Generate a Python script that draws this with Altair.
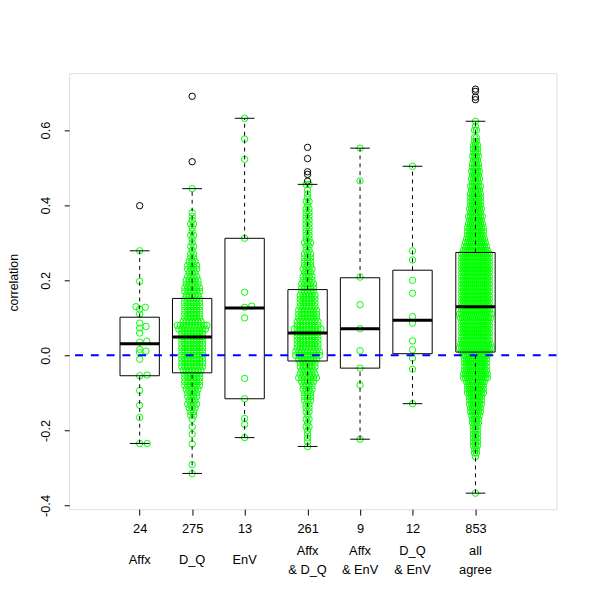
import altair as alt
import numpy as np
import pandas as pd

FONT = "Liberation Sans"

# ---------------- data ----------------
group_names = ["Affx", "D_Q", "EnV", "Affx\n& D_Q", "Affx\n& EnV", "D_Q\n& EnV", "all\nagree"]
group_sizes = ["24", "275", "13", "261", "9", "12", "853"]
group_pos = [1, 2, 3, 4.2, 5.2, 6.2, 7.4]

whisker_low = [-0.2347, -0.3145, -0.219, -0.2426, -0.2233, -0.1287, -0.367]
quart_1 = [-0.0543, -0.0465, -0.1156, -0.015, -0.034, 0.0044, 0.0088]
median = [0.0307, 0.049, 0.126, 0.0596, 0.0709, 0.0937, 0.1296]
quart_3 = [0.1016, 0.1516, 0.3118, 0.1752, 0.2067, 0.2268, 0.274]
whisker_high = [0.2785, 0.444, 0.6314, 0.4554, 0.5518, 0.5036, 0.6235]

outlier_group = [0, 1, 1, 3, 3, 3, 3, 3, 6, 6, 6, 6]
outlier_value = [0.3986, 0.690, 0.5158, 0.554, 0.524, 0.489, 0.482, 0.464, 0.709, 0.703, 0.688, 0.681]

# small groups: individual values
affx_points = [0.2785, 0.197, 0.1296, 0.128, 0.1227, 0.11, 0.0859, 0.077, 0.0727, 0.0596, 0.0377,
               0.035, 0.0158, 0.0114, 0.007, -0.0105, -0.0525, -0.0543, -0.0937, -0.133, -0.1655,
               -0.2347, -0.235]
env_points = [0.6314, 0.576, 0.522, 0.312, 0.168, 0.131, 0.128, 0.0998, -0.0613, -0.1156, -0.168,
              -0.184, -0.219]
affx_env_points = [0.5518, 0.465, 0.2084, 0.135, 0.071, 0.0123, -0.034, -0.0788, -0.2233]
dq_env_points = [0.5036, 0.2785, 0.254, 0.1997, 0.1655, 0.1033, 0.0858, 0.0385, 0.015, -0.007,
                 -0.0368, -0.1287]

# dense groups: value levels and number of points at each level
dq_levels = [0.444, 0.38, 0.37, 0.36, 0.35, 0.34, 0.33, 0.32, 0.31, 0.30, 0.29, 0.28, 0.27, 0.26,
             0.25, 0.24, 0.23, 0.22, 0.21, 0.20, 0.19, 0.18, 0.17, 0.16, 0.15, 0.14, 0.13, 0.12,
             0.11, 0.10, 0.09, 0.08, 0.07, 0.06, 0.05, 0.04, 0.03, 0.02, 0.01, 0.00, -0.01, -0.02,
             -0.03, -0.04, -0.05, -0.06, -0.07, -0.08, -0.09, -0.10, -0.11, -0.12, -0.13, -0.14,
             -0.15, -0.16, -0.17, -0.19, -0.21, -0.236, -0.291, -0.315]
dq_counts = [1, 1, 1, 1, 2, 1, 1, 2, 1, 1, 2, 1, 2, 2,
             3, 4, 4, 3, 4, 5, 5, 6, 6, 5, 6, 6, 6, 6,
             6, 6, 7, 11, 10, 8, 8, 8, 8, 8, 8, 8, 8, 8,
             8, 7, 6, 6, 6, 6, 5, 4, 4, 3, 4, 3,
             2, 2, 1, 1, 1, 1, 1, 1]

ad_levels = [0.455, 0.44, 0.43, 0.42, 0.41, 0.40, 0.39, 0.38, 0.37, 0.36, 0.35, 0.34, 0.33, 0.32,
             0.31, 0.30, 0.29, 0.28, 0.27, 0.26, 0.25, 0.24, 0.23, 0.22, 0.21, 0.20, 0.19, 0.18,
             0.17, 0.16, 0.15, 0.14, 0.13, 0.12, 0.11, 0.10, 0.09, 0.08, 0.07, 0.06, 0.05, 0.04,
             0.03, 0.02, 0.01, 0.00, -0.01, -0.02, -0.03, -0.04, -0.05, -0.06, -0.07, -0.08,
             -0.09, -0.10, -0.11, -0.12, -0.13, -0.14, -0.15, -0.16, -0.17, -0.18, -0.19, -0.20,
             -0.21, -0.22, -0.23, -0.243]
ad_counts = [2, 1, 1, 1, 2, 1, 2, 2, 2, 2, 2, 2, 2, 2,
             2, 3, 2, 2, 3, 3, 3, 3, 4, 3, 4, 4, 5, 5,
             5, 6, 6, 6, 6, 7, 7, 7, 8, 8, 10, 8, 8, 8,
             8, 8, 9, 9, 7, 6, 6, 5, 6, 7, 5, 4,
             4, 3, 3, 3, 2, 2, 2, 1, 2, 1, 2, 1,
             1, 1, 1, 1]

all_levels = [0.6235, 0.61, 0.60, 0.58, 0.57, 0.56, 0.55, 0.54, 0.53, 0.52, 0.51, 0.50, 0.49, 0.48,
              0.47, 0.46, 0.45, 0.44, 0.43, 0.42, 0.41, 0.40, 0.39, 0.38, 0.37, 0.36, 0.35, 0.34,
              0.33, 0.32, 0.31, 0.30, 0.29, 0.28, 0.27, 0.26, 0.25, 0.24, 0.23, 0.22, 0.21, 0.20,
              0.19, 0.18, 0.17, 0.16, 0.15, 0.14, 0.13, 0.12, 0.11, 0.10, 0.09, 0.08, 0.07, 0.06,
              0.05, 0.04, 0.03, 0.02, 0.01, 0.00, -0.01, -0.02, -0.03, -0.04, -0.05, -0.06, -0.07,
              -0.08, -0.09, -0.10, -0.11, -0.12, -0.13, -0.14, -0.15, -0.16, -0.17, -0.18, -0.19,
              -0.20, -0.21, -0.22, -0.23, -0.24, -0.25, -0.26, -0.27, -0.367]
all_counts = [1, 1, 2, 2, 2, 3, 3, 3, 4, 3, 4, 4, 5, 4,
              5, 4, 6, 5, 6, 6, 6, 6, 7, 6, 8, 7, 8, 9,
              9, 9, 10, 11, 12, 13, 15, 15, 15, 15, 15, 15, 15, 15,
              15, 15, 15, 15, 15, 15, 15, 15, 17, 16, 15, 15, 15, 15,
              15, 15, 16, 17, 15, 13, 12, 12, 12, 12, 13, 13, 10,
              9, 9, 9, 7, 7, 7, 6, 6, 5, 4, 4, 3,
              3, 3, 3, 3, 3, 2, 2, 1, 1]

zero_line = [0.0]

# ---------------- layout ----------------
PLOT_W, PLOT_H = 494, 442
X_DOMAIN = [-0.344, 8.944]
Y_DOMAIN = [-0.4097, 0.7516]
PX_X = PLOT_W / (X_DOMAIN[1] - X_DOMAIN[0])
PX_Y = PLOT_H / (Y_DOMAIN[1] - Y_DOMAIN[0])
HALF_BOX = 0.375
HALF_CAP = 0.1875


def swarm_offsets(values, dx_min=7.7, dy_min=3.0):
    # beeswarm-style placement: x spacing dx_min px, y closeness dy_min px
    ys = np.asarray(values, dtype=float) * PX_Y * (dx_min / dy_min)
    d = dx_min
    placed = []
    out = np.zeros(len(ys))
    for i in np.argsort(ys, kind="stable"):
        y = ys[i]
        cands = [0.0]
        for a, b in placed:
            dy = abs(b - y)
            if dy < d:
                dx = float(np.sqrt(d * d - dy * dy))
                cands += [a + dx, a - dx]
        cands.sort(key=lambda c: (round(abs(c), 6), -c))
        for c in cands:
            if all((c - a) ** 2 + (y - b) ** 2 >= d * d - 1e-6 for a, b in placed):
                out[i] = c
                placed.append((c, y))
                break
    return out / PX_X


def row_offsets(levels, counts, s):
    vals, offs = [], []
    for v, n in zip(levels, counts):
        for k in range(n):
            vals.append(v)
            offs.append((k - (n - 1) / 2) * s / PX_X)
    return vals, offs


rows = []
for gi, vals in [(0, affx_points), (2, env_points), (4, affx_env_points), (5, dq_env_points)]:
    offs = swarm_offsets(vals)
    for v, o in zip(vals, offs):
        rows.append({"x": group_pos[gi] + o, "v": v})
for gi, lv, ct, s in [(1, dq_levels, dq_counts, 3.0), (3, ad_levels, ad_counts, 3.0),
                      (6, all_levels, all_counts, 2.0)]:
    vals, offs = row_offsets(lv, ct, s)
    for v, o in zip(vals, offs):
        rows.append({"x": group_pos[gi] + o, "v": v})
points_df = pd.DataFrame(rows)

box_df = pd.DataFrame({"pos": group_pos, "lo": whisker_low, "q1": quart_1, "med": median,
                       "q3": quart_3, "hi": whisker_high})
out_df = pd.DataFrame({"x": [group_pos[g] for g in outlier_group], "v": outlier_value})
names_df = pd.DataFrame({"pos": group_pos, "name": group_names})
single_df = names_df[~names_df["name"].str.contains("\n")]
multi_df = names_df[names_df["name"].str.contains("\n")]
zero_df = pd.DataFrame({"v": zero_line})

x_expr = " : ".join(f"datum.value == {p} ? '{c}'" for p, c in zip(group_pos, group_sizes)) + " : ''"
y_expr = "datum.value < 0 ? '-' + format(-datum.value, '.1f') : format(datum.value, '.1f')"

x_scale = alt.Scale(domain=X_DOMAIN, nice=False, zero=False)
y_scale = alt.Scale(domain=Y_DOMAIN, nice=False, zero=False)

x_axis = alt.Axis(values=group_pos, labelExpr=x_expr, grid=False, domain=False, ticks=True,
                  tickSize=6, tickColor="black", tickWidth=1, labelColor="black", labelFont=FONT,
                  labelFontSize=13, labelPadding=8, labelOverlap=False, labelFlush=False, title=None)
y_axis = alt.Axis(values=[-0.4, -0.2, 0, 0.2, 0.4, 0.6], labelExpr=y_expr, grid=False, domain=False,
                  tickSize=5, tickColor="black", tickWidth=1, labelColor="black", labelFont=FONT,
                  labelFontSize=13, labelAngle=270, labelAlign="center", labelBaseline="alphabetic",
                  labelPadding=15, labelOverlap=False, labelFlush=False,
                  title="correlation", titleFont=FONT, titleFontSize=12.5, titleFontWeight="normal",
                  titleColor="black", titleAngle=270, titleX=-52, titleY=212, titleAlign="center",
                  titleBaseline="alphabetic")


def X(f):
    return alt.X(f, type="quantitative", scale=x_scale, axis=x_axis)


def Y(f):
    return alt.Y(f, type="quantitative", scale=y_scale, axis=y_axis)


points = alt.Chart(points_df).mark_point(shape="circle", filled=False, color="#00ff00", size=42,
                                          strokeWidth=1, opacity=1).encode(x=X("x"), y=Y("v"))

box = alt.Chart(box_df).transform_calculate(
    xl=f"datum.pos - {HALF_BOX}", xr=f"datum.pos + {HALF_BOX}",
    cl=f"datum.pos - {HALF_CAP}", cr=f"datum.pos + {HALF_CAP}")

rects = box.mark_rect(fill="transparent", stroke="black", strokeWidth=1).encode(
    x=X("xl"), x2=alt.X2("xr"), y=Y("q1"), y2=alt.Y2("q3"))
whisk_up = box.mark_rule(color="black", strokeWidth=1, strokeDash=[4, 4]).encode(
    x=X("pos"), y=Y("q3"), y2=alt.Y2("hi"))
whisk_dn = box.mark_rule(color="black", strokeWidth=1, strokeDash=[4, 4]).encode(
    x=X("pos"), y=Y("lo"), y2=alt.Y2("q1"))
cap_up = box.mark_rule(color="black", strokeWidth=1).encode(x=X("cl"), x2=alt.X2("cr"), y=Y("hi"))
cap_dn = box.mark_rule(color="black", strokeWidth=1).encode(x=X("cl"), x2=alt.X2("cr"), y=Y("lo"))
medians = box.mark_rule(color="black", strokeWidth=3).encode(x=X("xl"), x2=alt.X2("xr"), y=Y("med"))

outliers = alt.Chart(out_df).mark_point(shape="circle", filled=False, color="black", size=42,
                                         strokeWidth=1, opacity=1).encode(x=X("x"), y=Y("v"))

zero = alt.Chart(zero_df).mark_rule(color="#0000ff", strokeWidth=2, strokeDash=[8, 8]).encode(y=Y("v"))

names_single = alt.Chart(single_df).mark_text(font=FONT, fontSize=13, baseline="middle", align="center",
                                              color="black").encode(
    x=X("pos"), y=alt.value(494), text="name:N")
names_multi = alt.Chart(multi_df).mark_text(font=FONT, fontSize=13, lineBreak="\n", lineHeight=20,
                                            baseline="middle", align="center", color="black").encode(
    x=X("pos"), y=alt.value(484), text="name:N")

chart = alt.layer(points, rects, whisk_up, whisk_dn, cap_up, cap_dn, medians, outliers, zero,
                  names_single, names_multi).properties(
    width=PLOT_W, height=PLOT_H,
    autosize=alt.AutoSizeParams(type="none"),
    padding={"left": 62, "top": 62, "right": 36, "bottom": 88},
).configure_view(stroke="black", strokeWidth=1).configure(background="white")

chart.save("out.html", embed_options={"renderer": "svg", "actions": False})
